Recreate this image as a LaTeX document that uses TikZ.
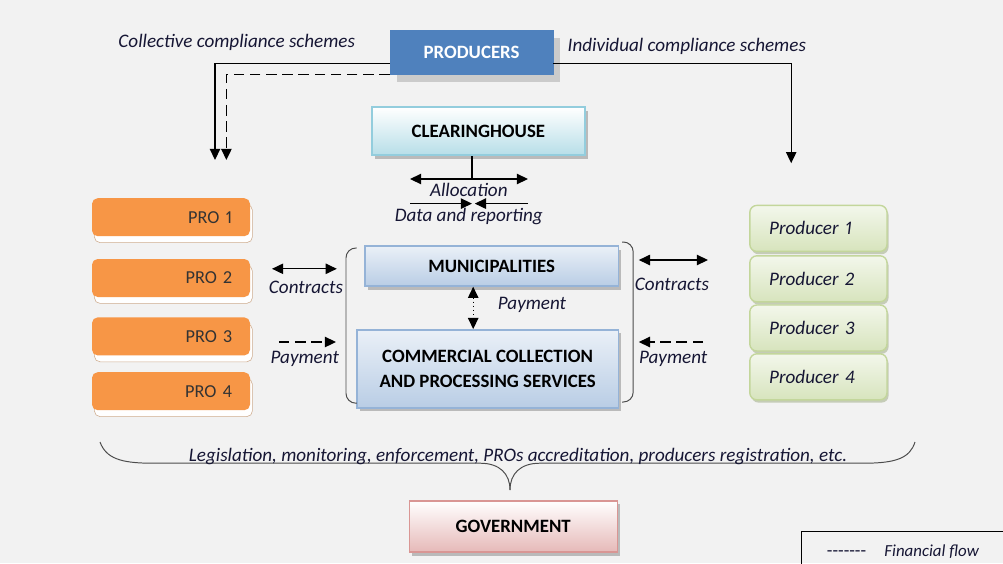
\documentclass[tikz,border=0pt]{standalone}
\usepackage{fontspec}
\setmainfont{Carlito}[Numbers=Proportional]
\usepackage{xcolor}
\usepackage{tikz}
\usetikzlibrary{arrows.meta,positioning,shadows}
\definecolor{epbg}{RGB}{242,242,242}
\definecolor{epblue}{RGB}{79,129,189}
\definecolor{eporange}{RGB}{247,150,70}
\definecolor{eptan}{RGB}{206,172,142}
\definecolor{epcyan}{RGB}{183,222,232}
\definecolor{epcyanline}{RGB}{147,205,221}
\definecolor{epsky}{RGB}{185,205,229}
\definecolor{epskyline}{RGB}{149,179,215}
\definecolor{epgreen}{RGB}{215,228,189}
\definecolor{epgreenline}{RGB}{195,214,155}
\definecolor{eppink}{RGB}{230,185,184}
\definecolor{eppinkline}{RGB}{217,150,148}
\definecolor{eplabel}{RGB}{22,22,52}
\tikzset{
  ephead/.style={font=\fontsize{13.4}{18}\selectfont\bfseries, align=center, inner sep=2pt},
  eplabel/.style={font=\fontsize{13.6}{16}\selectfont\itshape, text=eplabel, inner sep=1pt},
  epshadow/.style={drop shadow={shadow xshift=0.08cm, shadow yshift=-0.09cm, fill=black!45, opacity=0.55}},
  epprod/.style={ephead, fill=epblue, draw=epblue, text=white,
    drop shadow={shadow xshift=0.18cm, shadow yshift=-0.2cm, fill=black!35, opacity=0.5}},
  epclear/.style={ephead, draw=epcyanline, line width=1.2pt, top color=white, bottom color=epcyan, epshadow},
  epmuni/.style={ephead, draw=epskyline, line width=1pt, top color=epsky!30, bottom color=epsky, epshadow},
  epgov/.style={ephead, draw=eppinkline, line width=1pt, top color=white, bottom color=eppink, epshadow},
  eppro/.style={font=\fontsize{13}{15}\selectfont, text=black!80, fill=eporange, rounded corners=4pt,
    minimum width=3.95cm, minimum height=0.95cm, text width=3.05cm, align=right,
    drop shadow={shadow xshift=0.06cm, shadow yshift=-0.16cm, fill=white, draw=eptan, opacity=1}},
  epmaker/.style={eplabel, draw=epgreenline, line width=1pt, rounded corners=5pt,
    top color=epgreen!30, bottom color=epgreen, minimum width=3.43cm, minimum height=1.15cm,
    text width=2.46cm, align=left, inner sep=3pt,
    drop shadow={shadow xshift=0.04cm, shadow yshift=-0.07cm, fill=epgreenline!60!gray, opacity=0.6}},
  eparrow/.style={-{Triangle[length=2.8mm,width=2.6mm]}, line width=0.9pt},
  epboth/.style={{Triangle[length=2.8mm,width=2.6mm]}-{Triangle[length=2.8mm,width=2.6mm]}, line width=0.9pt},
  epdash/.style={dash pattern=on 7.5pt off 4pt, line width=1.1pt},
  epcurve/.style={line width=0.7pt, draw=black!70}
}

\begin{document}
\begin{tikzpicture}
  \useasboundingbox[fill=epbg] (0cm,0cm) rectangle (25.075cm,-14.075cm);

  % producers and the two kinds of schemes
  \node[epprod, minimum width=4.08cm, minimum height=1.10cm] (prod) at (11.79cm,-1.30cm) {PRODUCERS};
  \node[eplabel, anchor=west] (ccs) at (2.92cm,-1.05cm) {Collective compliance schemes};
  \node[eplabel, anchor=west] (ics) at (14.15cm,-1.15cm) {Individual compliance schemes};
  \coordinate (ccsa) at (5.375cm,-4.00cm);
  \coordinate (ccsb) at (5.66cm,-4.00cm);
  \coordinate (icsa) at (19.78cm,-4.08cm);
  \draw[eparrow] ([yshift=-0.28cm]prod.west) -| (ccsa);
  \draw[eparrow, epdash] (prod.south west) -| (ccsb);
  \draw[eparrow] ([yshift=-0.28cm]prod.east) -| (icsa);

  % clearinghouse
  \node[epclear, minimum width=5.33cm, minimum height=1.20cm] (clear) at (11.96cm,-3.28cm) {CLEARINGHOUSE};
  \coordinate (allocm) at (11.80cm,-4.475cm);
  \coordinate (allocl) at (10.25cm,-4.475cm);
  \coordinate (allocr) at (13.20cm,-4.475cm);
  \coordinate (datal) at (10.25cm,-5.09cm);
  \coordinate (datar) at (13.20cm,-5.09cm);
  \draw[line width=0.9pt] (allocm |- clear.south) -- (allocm);
  \draw[epboth] (allocl) -- (allocr);
  \node[eplabel] (alloct) at (11.72cm,-4.76cm) {Allocation};
  \draw[eparrow] (datal) -- (allocm |- datal);
  \draw[eparrow] (datar) -- ([xshift=0.07cm]allocm |- datar);
  \node[eplabel] (datat) at (11.72cm,-5.40cm) {Data and reporting};

  % PROs
  \node[eppro] (pro1) at (4.275cm,-5.43cm) {PRO 1};
  \node[eppro] (pro2) at (4.275cm,-6.95cm) {PRO 2};
  \node[eppro] (pro3) at (4.275cm,-8.41cm) {PRO 3};
  \node[eppro] (pro4) at (4.275cm,-9.78cm) {PRO 4};

  % individual producers
  \node[epmaker] (mk1) at (20.46cm,-5.71cm) {Producer 1};
  \node[epmaker] (mk2) at (20.46cm,-6.97cm) {Producer 2};
  \node[epmaker] (mk3) at (20.46cm,-8.20cm) {Producer 3};
  \node[epmaker] (mk4) at (20.46cm,-9.42cm) {Producer 4};

  % municipalities and commercial services
  \node[epmuni, minimum width=6.33cm, minimum height=1.00cm] (muni) at (12.29cm,-6.65cm) {MUNICIPALITIES};
  \node[epmuni, minimum width=6.53cm, minimum height=1.95cm] (comm) at (12.19cm,-9.22cm)
    {COMMERCIAL COLLECTION\\AND PROCESSING SERVICES};
  \draw[epboth, dotted] ([xshift=-0.46cm]muni.south) -- ([xshift=-0.46cm]muni.south |- comm.north);
  \node[eplabel] (mpay) at (13.30cm,-7.63cm) {Payment};
  \draw[epcurve, rounded corners=7pt] (8.92cm,-6.20cm) -- (8.65cm,-6.20cm) -- (8.65cm,-10.08cm) -- (8.92cm,-10.08cm);
  \draw[epcurve, rounded corners=7pt] (15.55cm,-6.05cm) -- (15.83cm,-6.05cm) -- (15.83cm,-10.05cm) -- (15.55cm,-10.05cm);

  % contracts and payments on both sides
  \coordinate (lcona) at (6.80cm,-6.72cm);
  \coordinate (lconb) at (8.42cm,-6.72cm);
  \coordinate (lpaya) at (6.97cm,-8.55cm);
  \coordinate (lpayb) at (8.40cm,-8.55cm);
  \coordinate (rcona) at (15.97cm,-6.50cm);
  \coordinate (rconb) at (17.70cm,-6.50cm);
  \coordinate (rpaya) at (17.58cm,-8.55cm);
  \coordinate (rpayb) at (15.97cm,-8.55cm);
  \draw[epboth] (lcona) -- (lconb);
  \draw[eparrow, epdash] (lpaya) -- (lpayb);
  \draw[epboth] (rcona) -- (rconb);
  \draw[eparrow, epdash] (rpaya) -- (rpayb);
  \node[eplabel] (lcont) at (7.65cm,-7.18cm) {Contracts};
  \node[eplabel] (lpayt) at (7.62cm,-8.98cm) {Payment};
  \node[eplabel] (rcont) at (16.80cm,-7.12cm) {Contracts};
  \node[eplabel] (rpayt) at (16.83cm,-8.98cm) {Payment};

  % government
  \draw[epcurve] (2.50cm,-11.05cm) .. controls (2.65cm,-11.45cm) and (3.00cm,-11.58cm) .. (3.80cm,-11.58cm)
    -- (12.00cm,-11.58cm) .. controls (12.50cm,-11.58cm) and (12.75cm,-11.85cm) .. (12.75cm,-12.25cm);
  \draw[epcurve] (22.875cm,-11.05cm) .. controls (22.75cm,-11.45cm) and (22.40cm,-11.58cm) .. (21.60cm,-11.58cm)
    -- (13.50cm,-11.58cm) .. controls (13.00cm,-11.58cm) and (12.75cm,-11.85cm) .. (12.75cm,-12.25cm);
  \node[eplabel] (govt) at (12.95cm,-11.40cm) {Legislation, monitoring, enforcement, PROs accreditation, producers registration, etc.};
  \node[epgov, minimum width=5.20cm, minimum height=1.28cm] (gov) at (12.83cm,-13.16cm) {GOVERNMENT};

  % legend
  \node[draw, line width=0.6pt, anchor=north west, minimum width=5.4cm, minimum height=1.2cm] (legend) at (20.03cm,-13.28cm) {};
  \node[anchor=west, font=\fontsize{12}{14}\selectfont, text=eplabel] (legendt) at (20.55cm,-13.78cm)
    {\fontsize{13}{14}\selectfont{-}{-}{-}{-}{-}{-}{-}\quad\itshape\fontsize{12}{14}\selectfont Financial flow};
\end{tikzpicture}
\end{document}
